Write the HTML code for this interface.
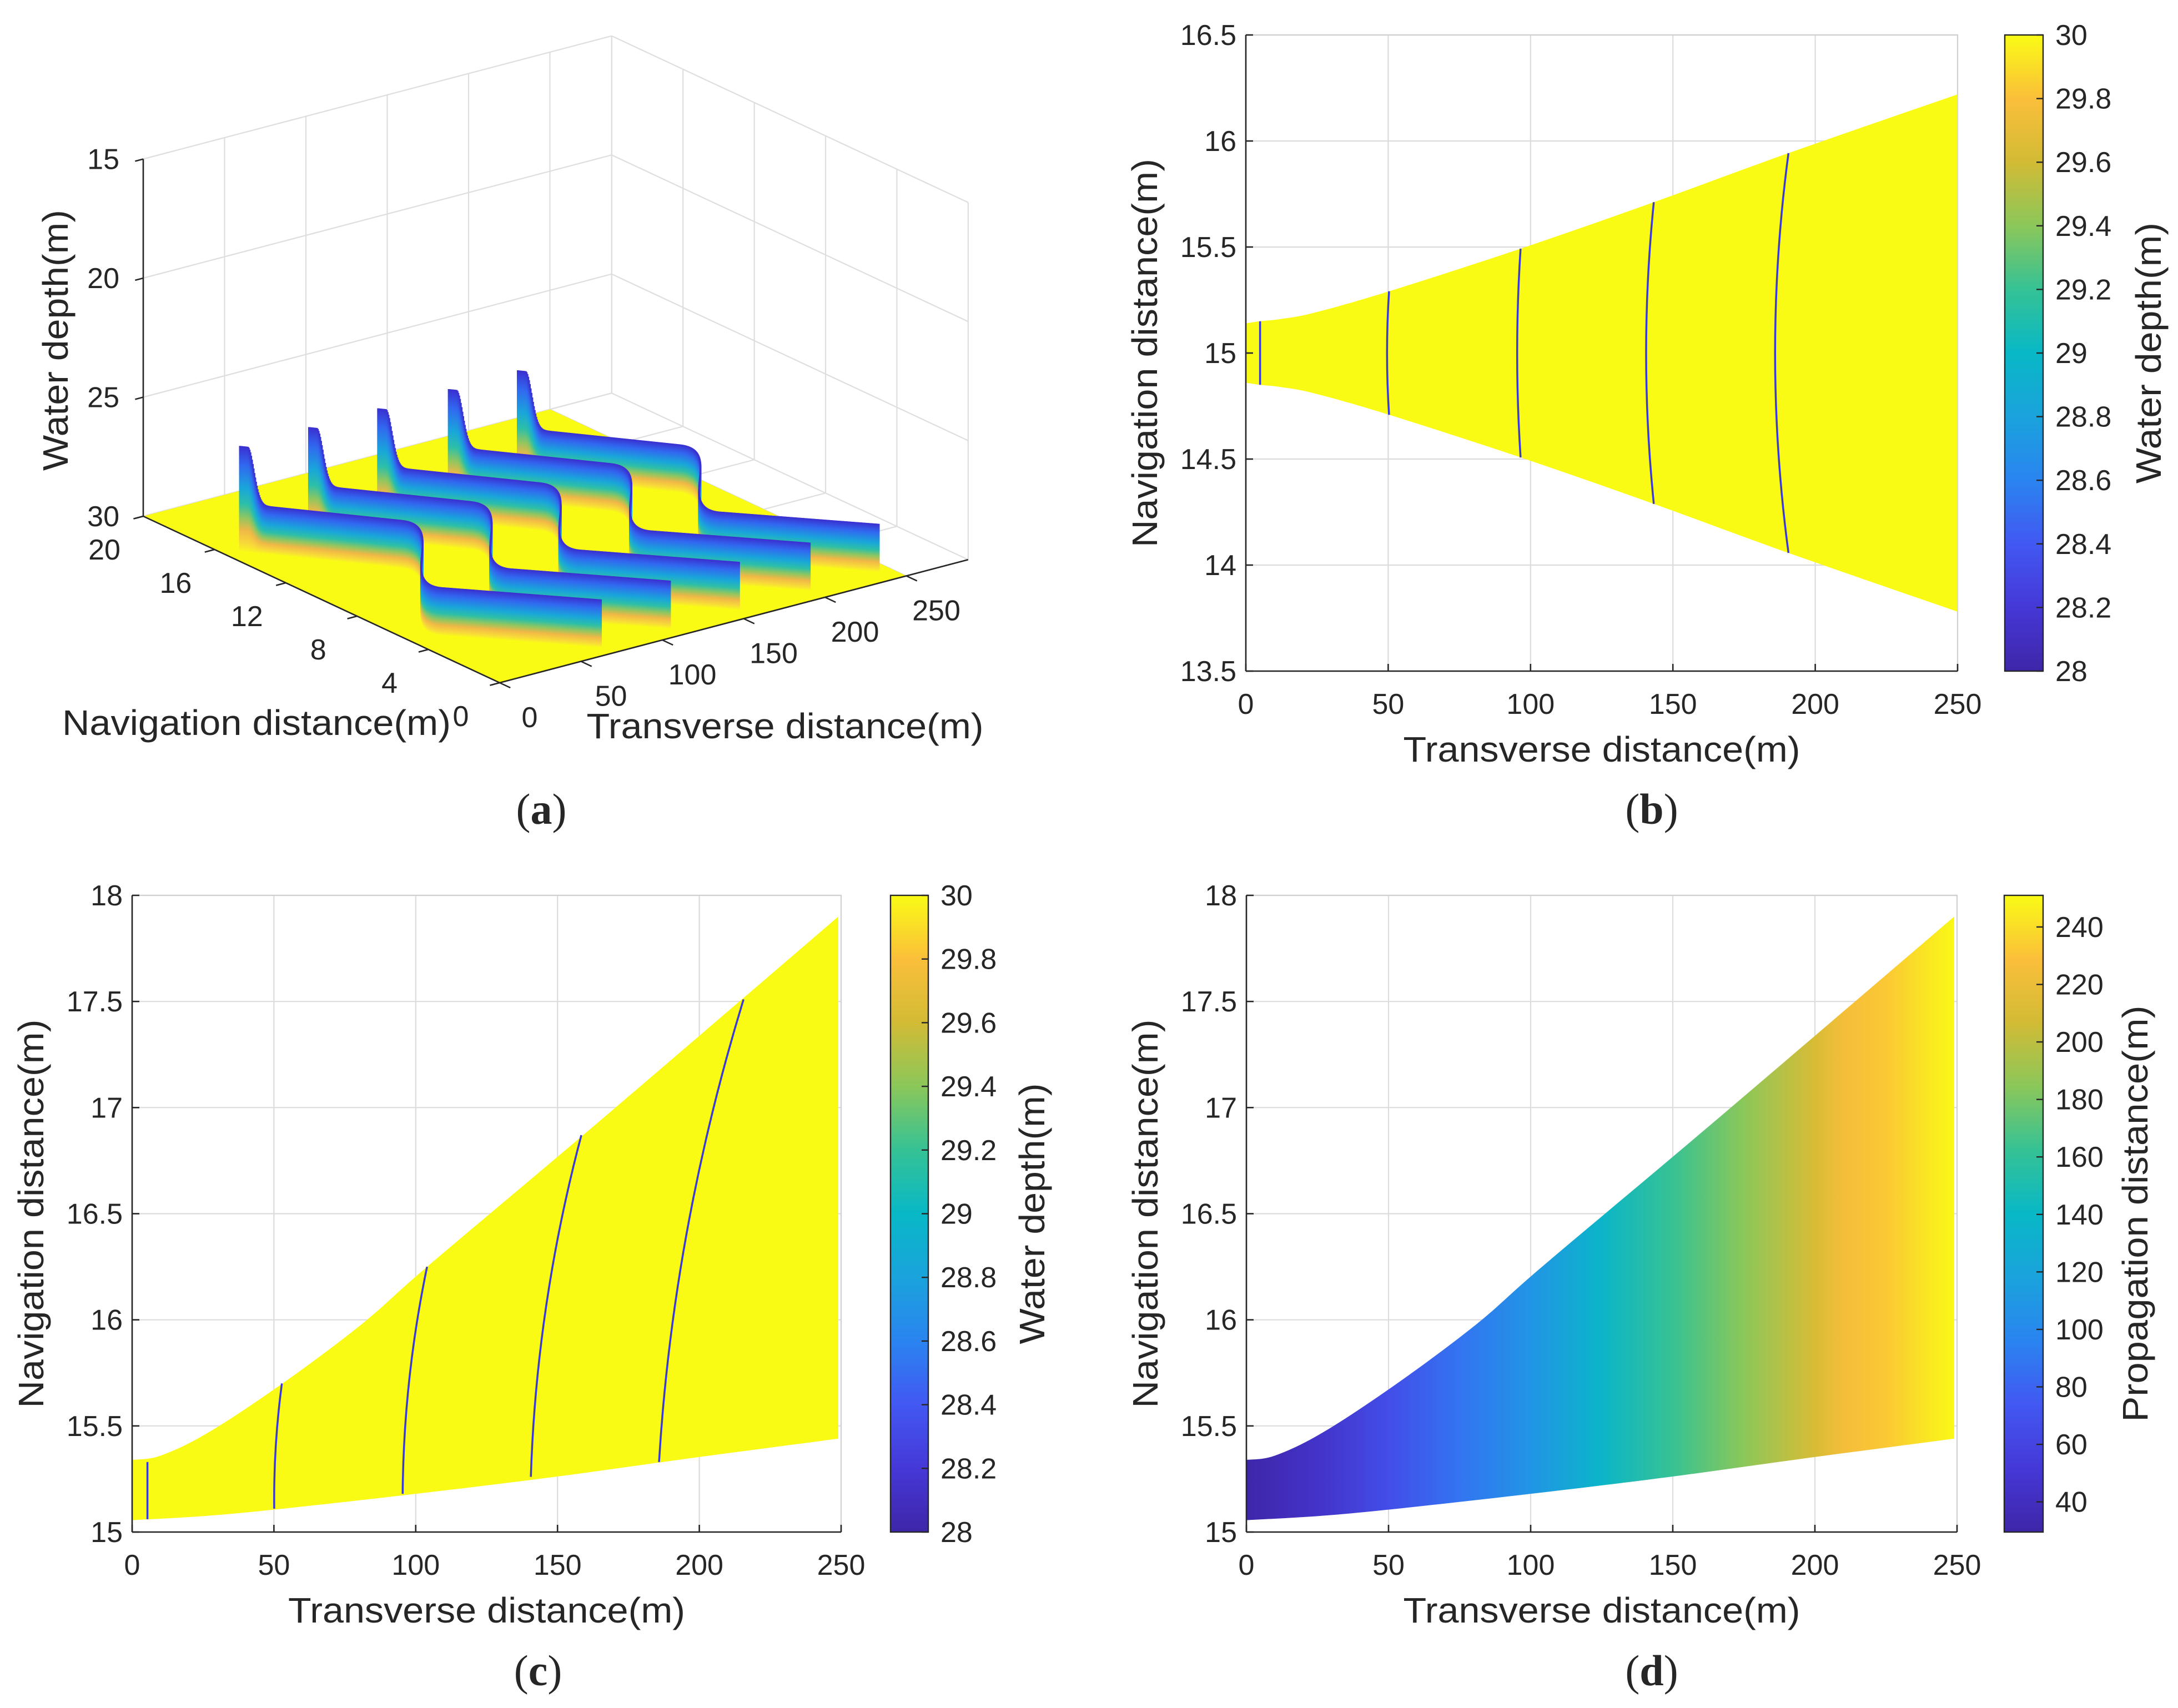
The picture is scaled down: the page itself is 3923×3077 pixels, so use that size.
<!DOCTYPE html>
<html><head><meta charset="utf-8"><title>Wave propagation figure</title>
<style>
html,body{margin:0;padding:0;background:#fff;}
svg text{font-family:"Liberation Sans",Arial,sans-serif;fill:#262626;}
</style></head>
<body>
<svg id="fig" xmlns="http://www.w3.org/2000/svg" width="3923" height="3072" viewBox="0 0 3923 3072">
<rect x="0" y="0" width="3923" height="3072" fill="#ffffff"/>
<defs id="defs"></defs>
</svg>
<script>
// ---------------- data ----------------
// panel (a): 3D wavefront walls
const aNavTicks = [0,4,8,12,16,20];
const aTransTicks = [0,50,100,150,200,250];
const aDepthTicks = [15,20,25,30];
const aWallStartT = [9,52,95,139,182];
const aWallStartN = [15.4,15.45,15.5,15.55,15.6];
const aWallShapeDT = [0,53.6,4.2,60.9];
const aWallShapeDN = [0,-4.95,-10.2,-14.7];
const aWallTopZ = [28.0,28.0,28.0,28.0,28.0];
const aSpikeTopZ = [25.6,25.6,25.6,25.6,25.6];
// panel (b)
const bUpperX = [0,5,12,24,50,96,143,190,250];
const bUpperY = [15.14,15.15,15.16,15.19,15.29,15.49,15.71,15.94,16.22];
const bFrontX = [5,50.3,96.5,143.3,190.6];
const bFrontMidX = [5,49.6,95.3,140.6,185.9];
const bXTicks = [0,50,100,150,200,250];
const bYTicks = [13.5,14,14.5,15,15.5,16,16.5];
const bYTickLabels = ["13.5","14","14.5","15","15.5","16","16.5"];
// panel (c)
const cUpperX = [0,10,27,53,81,104,159,215,249];
const cUpperY = [15.34,15.36,15.47,15.70,15.98,16.25,16.87,17.51,17.90];
const cLowerX = [0,25,51,100,149,198,249];
const cLowerY = [15.056,15.075,15.107,15.18,15.26,15.35,15.44];
const cFrontBotX = [5.4,50.1,95.4,140.6,185.8];
const cFrontBotY = [15.06,15.11,15.18,15.26,15.33];
const cFrontTopX = [5.4,52.8,104,158.4,215.6];
const cFrontTopY = [15.33,15.70,16.25,16.87,17.51];
const cFrontBow = [0,-0.8,-2,-3.5,-5];
const cYTicks = [15,15.5,16,16.5,17,17.5,18];
const cYTickLabels = ["15","15.5","16","16.5","17","17.5","18"];
// panel (d)
const dColorX = [0,25,50,75,100,125,150,175,200,210,225,250];
const dColorV = [30,45,66,88,108,137,163,185,210,225,232,251];
// colorbars
const depthCbTicks = [28,28.2,28.4,28.6,28.8,29,29.2,29.4,29.6,29.8,30];
const depthCbLabels = ["28","28.2","28.4","28.6","28.8","29","29.2","29.4","29.6","29.8","30"];
const propCbTicks = [40,60,80,100,120,140,160,180,200,220,240];

// ---------------- helpers ----------------
const NS = "http://www.w3.org/2000/svg";
const svg = document.getElementById('fig');
const defs = document.getElementById('defs');
function mk(tag, attrs, parent){
  const e = document.createElementNS(NS, tag);
  for (const k in attrs) e.setAttribute(k, attrs[k]);
  (parent || svg).appendChild(e);
  return e;
}
const parulaStops = [[0,"#3e26a8"],[0.1,"#4538d7"],[0.2,"#4258f2"],[0.3,"#2a84f0"],[0.4,"#1aa3dc"],[0.5,"#08b8c6"],[0.6,"#35c295"],[0.7,"#8bc75a"],[0.8,"#d2bb35"],[0.9,"#fbbf3a"],[1,"#f9fb15"]];
function hex2rgb(h){return [parseInt(h.substr(1,2),16),parseInt(h.substr(3,2),16),parseInt(h.substr(5,2),16)];}
function parula(f){
  f=Math.max(0,Math.min(1,f));
  for(let i=1;i<parulaStops.length;i++){
    if(f<=parulaStops[i][0]){
      const a=parulaStops[i-1],b=parulaStops[i];
      const u=(f-a[0])/(b[0]-a[0]);
      const ca=hex2rgb(a[1]),cb=hex2rgb(b[1]);
      return "rgb("+ca.map((v,j)=>Math.round(v+(cb[j]-v)*u)).join(",")+")";
    }
  }
  return parulaStops[parulaStops.length-1][1];
}
function interp(xs, ys, x){
  if(x<=xs[0]) return ys[0];
  for(let i=1;i<xs.length;i++){ if(x<=xs[i]){ const u=(x-xs[i-1])/(xs[i]-xs[i-1]); return ys[i-1]+u*(ys[i]-ys[i-1]); } }
  return ys[ys.length-1];
}
// smooth (Catmull-Rom) resampling of a data curve, returns screen points
function smoothPts(xs, ys, sx, sy){
  const out=[];
  const n=xs.length;
  for(let i=0;i<n-1;i++){
    const p0=[xs[Math.max(0,i-1)],ys[Math.max(0,i-1)]], p1=[xs[i],ys[i]], p2=[xs[i+1],ys[i+1]], p3=[xs[Math.min(n-1,i+2)],ys[Math.min(n-1,i+2)]];
    for(let k=0;k<12;k++){
      const t=k/12, t2=t*t, t3=t2*t;
      const f=(a,b,c,d)=>0.5*((2*b)+(-a+c)*t+(2*a-5*b+4*c-d)*t2+(-a+3*b-3*c+d)*t3);
      out.push([sx(f(p0[0],p1[0],p2[0],p3[0])), sy(f(p0[1],p1[1],p2[1],p3[1]))]);
    }
  }
  out.push([sx(xs[n-1]),sy(ys[n-1])]);
  return out;
}
const YEL = "#f9fb15";

const cbGrad = mk('linearGradient',{id:'cbGrad',x1:'0',y1:'1',x2:'0',y2:'0'},defs);
parulaStops.forEach(s=>mk('stop',{offset:s[0],'stop-color':s[1]},cbGrad));
const wallGrad = mk('linearGradient',{id:'wallGrad',x1:'0',y1:'0',x2:'0',y2:'1'},defs);
[[0,"#3a2fd0"],[0.18,"#3168f0"],[0.4,"#19a6da"],[0.55,"#2cbfa8"],[0.68,"#8fc660"],[0.8,"#f0b846"],[0.92,"#f8d83a"],[1,"#f9f520"]].forEach(s=>mk('stop',{offset:s[0],'stop-color':s[1]},wallGrad));

function text(parent, x, y, str, size, anchor, extra){
  const t = mk('text', Object.assign({x:x,y:y,'font-size':size,'text-anchor':anchor||'middle'}, extra||{}), parent);
  t.textContent = str;
  return t;
}

// ---------------- 2D axes ----------------
function axes2d(name, cfg){
  const g = mk('g',{});
  
  
  const sx = v => cfg.left + (v-cfg.xmin)/(cfg.xmax-cfg.xmin)*(cfg.right-cfg.left);
  const sy = v => cfg.bottom - (v-cfg.ymin)/(cfg.ymax-cfg.ymin)*(cfg.bottom-cfg.top);
  const grid = mk('g',{stroke:'#dcdcdc','stroke-width':2.2},g);
  
  
  cfg.xticks.forEach(v=>mk('line',{x1:sx(v),x2:sx(v),y1:cfg.top,y2:cfg.bottom},grid));
  cfg.yticks.forEach(v=>mk('line',{x1:cfg.left,x2:cfg.right,y1:sy(v),y2:sy(v)},grid));
  mk('rect',{x:cfg.left,y:cfg.top,width:cfg.right-cfg.left,height:cfg.bottom-cfg.top,fill:'none',stroke:'#d0d0d0','stroke-width':2.2},g);
  const plot = mk('g',{},g);
  
  
  const ax = mk('g',{stroke:'#262626','stroke-width':2.6},g);
  
  
  mk('line',{x1:cfg.left,x2:cfg.right,y1:cfg.bottom,y2:cfg.bottom},ax);
  mk('line',{x1:cfg.left,x2:cfg.left,y1:cfg.top,y2:cfg.bottom},ax);
  cfg.xticks.forEach(v=>mk('line',{x1:sx(v),x2:sx(v),y1:cfg.bottom,y2:cfg.bottom-13},ax));
  cfg.yticks.forEach(v=>mk('line',{x1:cfg.left,x2:cfg.left+13,y1:sy(v),y2:sy(v)},ax));
  const xl = mk('g',{},g);
  
  
  cfg.xticks.forEach(v=>text(xl, sx(v), cfg.bottom+77, String(v), 52));
  const yl = mk('g',{},g);
  
  
  cfg.yticks.forEach((v,i)=>text(yl, cfg.left-17, sy(v)+18, cfg.ylabels[i], 52, 'end'));
  const xt = text(g, (cfg.left+cfg.right)/2, cfg.bottom+163, 'Transverse distance(m)', 64, 'middle', {textLength:715, lengthAdjust:'spacingAndGlyphs'});
  
  
  const cy = (cfg.top+cfg.bottom)/2, bx = cfg.left-160;
  const yt = text(g, bx, cy, 'Navigation distance(m)', 64, 'middle', {transform:'rotate(-90 '+bx+' '+cy+')', textLength:700, lengthAdjust:'spacingAndGlyphs'});
  
  
  return {sx, sy, g, plot};
}

function colorbar(name, cfg){
  const g = mk('g',{});
  
  
  mk('rect',{x:cfg.x0,y:cfg.top,width:cfg.x1-cfg.x0,height:cfg.bottom-cfg.top,fill:'url(#cbGrad)',stroke:'#262626','stroke-width':2.4},g);
  const sy = v => cfg.bottom - (v-cfg.vmin)/(cfg.vmax-cfg.vmin)*(cfg.bottom-cfg.top);
  cfg.ticks.forEach((v,i)=>{
    mk('line',{x1:cfg.x1-12,x2:cfg.x1,y1:sy(v),y2:sy(v),stroke:'#262626','stroke-width':2.4},g);
    const t = text(g, cfg.x1+22, sy(v)+18, cfg.labels[i], 52, 'start');
    
    
  });
  const cy=(cfg.top+cfg.bottom)/2;
  const tt = text(g, cfg.titleX, cy, cfg.title, 64, 'middle', {transform:'rotate(-90 '+cfg.titleX+' '+cy+')', textLength:cfg.titleLen, lengthAdjust:'spacingAndGlyphs'});
  
  
}

function caption(x, y, letter, name){
  const t = mk('text',{x:x,y:y,'font-size':78,'text-anchor':'middle',style:'font-family:"Liberation Serif",serif'});
  
  
  const a = mk('tspan',{},t); a.textContent='(';
  const b = mk('tspan',{'font-weight':'bold'},t); b.textContent=letter;
  const c = mk('tspan',{},t); c.textContent=')';
}

// ---------------- panel (b) ----------------
(function(){
  const A = axes2d('panel-b-axes',{left:2244,right:3526,top:63,bottom:1209,xmin:0,xmax:250,ymin:13.5,ymax:16.5,xticks:bXTicks,yticks:bYTicks,ylabels:bYTickLabels});
  const up = smoothPts(bUpperX, bUpperY, A.sx, A.sy);
  const lo = smoothPts(bUpperX, bUpperY.map(v=>30-v), A.sx, A.sy).reverse();
  const poly = mk('polygon',{points:up.concat(lo).map(p=>p.join(',')).join(' '),fill:YEL},A.plot);
  
  
  bFrontX.forEach((x,i)=>{
    const yt = interp(bUpperX,bUpperY,x), yb = 30-yt;
    const mx = bFrontMidX[i];
    const cx = 2*A.sx(mx) - A.sx(x);
    const p = mk('path',{d:'M'+A.sx(x)+' '+A.sy(yt)+' Q'+cx+' '+A.sy(15)+' '+A.sx(x)+' '+A.sy(yb),fill:'none',stroke:'#3b3bd2','stroke-width':3.5},A.plot);
    
    
  });
  colorbar('panel-b-colorbar',{x0:3611,x1:3680,top:63,bottom:1209,vmin:28,vmax:30,ticks:depthCbTicks,labels:depthCbLabels,title:'Water depth(m)',titleX:3892,titleLen:470});
  caption(2975,1484,'b','caption-b');
})();

// ---------------- panel (c) ----------------
function regionPolygon(A){
  const up = smoothPts(cUpperX, cUpperY, A.sx, A.sy);
  const lo = smoothPts(cLowerX, cLowerY, A.sx, A.sy).reverse();
  return up.concat(lo).map(p=>p.join(',')).join(' ');
}
(function(){
  const A = axes2d('panel-c-axes',{left:238,right:1515,top:1613,bottom:2760,xmin:0,xmax:250,ymin:15,ymax:18,xticks:bXTicks,yticks:cYTicks,ylabels:cYTickLabels});
  const poly = mk('polygon',{points:regionPolygon(A),fill:YEL},A.plot);
  
  
  cFrontBotX.forEach((x,i)=>{
    const x0=A.sx(x), y0=A.sy(cFrontBotY[i]), x1=A.sx(cFrontTopX[i]), y1=A.sy(cFrontTopY[i]);
    const mx=(x0+x1)/2 + 2*(A.sx(cFrontBow[i])-A.sx(0)), my=(y0+y1)/2;
    const p = mk('path',{d:'M'+x0+' '+y0+' Q'+mx+' '+my+' '+x1+' '+y1,fill:'none',stroke:'#3b3bd2','stroke-width':3.5},A.plot);
    
    
  });
  colorbar('panel-c-colorbar',{x0:1604,x1:1672,top:1613,bottom:2760,vmin:28,vmax:30,ticks:depthCbTicks,labels:depthCbLabels,title:'Water depth(m)',titleX:1881,titleLen:470});
  caption(969,3036,'c','caption-c');
})();

// ---------------- panel (d) ----------------
(function(){
  const A = axes2d('panel-d-axes',{left:2245,right:3525,top:1613,bottom:2760,xmin:0,xmax:250,ymin:15,ymax:18,xticks:bXTicks,yticks:cYTicks,ylabels:cYTickLabels});
  const vmin=29.5, vmax=251;
  const gr = mk('linearGradient',{id:'dGrad',gradientUnits:'userSpaceOnUse',x1:A.sx(0),y1:0,x2:A.sx(250),y2:0},defs);
  dColorX.forEach((x,i)=>mk('stop',{offset:x/250,'stop-color':parula((dColorV[i]-vmin)/(vmax-vmin))},gr));
  const poly = mk('polygon',{points:regionPolygon(A),fill:'url(#dGrad)'},A.plot);
  
  
  colorbar('panel-d-colorbar',{x0:3610,x1:3680,top:1613,bottom:2760,vmin:vmin,vmax:vmax,ticks:propCbTicks,labels:propCbTicks.map(String),title:'Propagation distance(m)',titleX:3868,titleLen:750});
  caption(2975,3036,'d','caption-d');
})();

// ---------------- panel (a) 3D ----------------
(function(){
  const F=[900,1230], T=[2.93,-0.77], N=[-32.1,-15], ZU=42.9, TMAX=288, FLOORT=250;
  const P=(t,n,z)=>[F[0]+t*T[0]+n*N[0], F[1]+t*T[1]+n*N[1]+(z-30)*ZU];
  const g = mk('g',{});
  
  
  const grid = mk('g',{stroke:'#dedede','stroke-width':2.2,fill:'none'},g);
  
  
  const L=(a,b,par,attrs)=>mk('line',Object.assign({x1:a[0],y1:a[1],x2:b[0],y2:b[1]},attrs||{}),par);
  aNavTicks.forEach(n=>L(P(0,n,30),P(TMAX,n,30),grid));
  aTransTicks.forEach(t=>L(P(t,0,30),P(t,20,30),grid));
  aTransTicks.forEach(t=>L(P(t,20,30),P(t,20,15),grid));
  aDepthTicks.forEach(z=>L(P(0,20,z),P(TMAX,20,z),grid));
  aNavTicks.forEach(n=>L(P(TMAX,n,30),P(TMAX,n,15),grid));
  aDepthTicks.forEach(z=>L(P(TMAX,0,z),P(TMAX,20,z),grid));
  L(P(TMAX,20,30),P(TMAX,20,15),grid);
  const fl=[P(0,0,30),P(FLOORT,0,30),P(FLOORT,20,30),P(0,20,30)];
  const floor = mk('polygon',{points:fl.map(p=>p.join(',')).join(' '),fill:YEL},g);
  
  
  for(let k=aWallStartT.length-1;k>=0;k--){
    const wg = mk('g',{},g);
    
    
    const S = aWallShapeDT.map((dt,i)=>P(aWallStartT[k]+dt, aWallStartN[k]+aWallShapeDN[i], 30));
    const unit=(a,b)=>{const dx=b[0]-a[0],dy=b[1]-a[1],l=Math.hypot(dx,dy);return [dx/l,dy/l];};
    const u1=unit(S[0],S[1]), u2=unit(S[2],S[3]), r=85;
    const pts=[];
    const seg=(a,b,n)=>{for(let i=0;i<n;i++){const u=i/n;pts.push([a[0]+(b[0]-a[0])*u,a[1]+(b[1]-a[1])*u]);}};
    const s1end=[S[1][0]-u1[0]*25,S[1][1]-u1[1]*25];
    seg(S[0],s1end,200);
    const c1=[s1end[0]+u1[0]*r,s1end[1]+u1[1]*r], s2st=[S[2][0]+u2[0]*25,S[2][1]+u2[1]*25], c2=[s2st[0]-u2[0]*r,s2st[1]-u2[1]*r];
    for(let i=0;i<140;i++){const u=i/140,v=1-u;pts.push([v*v*v*s1end[0]+3*v*v*u*c1[0]+3*v*u*u*c2[0]+u*u*u*s2st[0], v*v*v*s1end[1]+3*v*v*u*c1[1]+3*v*u*u*c2[1]+u*u*u*s2st[1]]);}
    seg(s2st,S[3],200); pts.push(S[3]);
    const bandH=(30-aWallTopZ[k])*ZU, spikeH=(aWallTopZ[k]-aSpikeTopZ[k])*ZU;
    let s=0;
    pts.forEach((p,i)=>{
      if(i>0) s+=Math.hypot(p[0]-pts[i-1][0],p[1]-pts[i-1][1]);
      const f = s<14 ? 1 : Math.exp(-Math.pow((s-14)/16,2));
      const h=bandH+spikeH*f;
      mk('rect',{x:p[0]-1.5,y:p[1]-h,width:3.2,height:h,fill:'url(#wallGrad)'},wg);
    });
  }
  const ax = mk('g',{stroke:'#262626','stroke-width':2.6},g);
  
  
  L(P(0,20,30),P(0,20,15),ax);
  L(P(0,0,30),P(0,20,30),ax);
  L(P(0,0,30),P(TMAX,0,30),ax);
  aDepthTicks.forEach(z=>L(P(0,20,z),P(-5,20,z),ax));
  aNavTicks.forEach(n=>L(P(0,n,30),P(-6,n,30),ax));
  aTransTicks.forEach(t=>L(P(t,0,30),P(t,-0.6,30),ax));
  const zl = mk('g',{},g);
  
  
  aDepthTicks.forEach(z=>{const p=P(0,20,z);text(zl,215,p[1]+18,String(z),52,'end');});
  const nl = mk('g',{},g);
  
  
  aNavTicks.forEach(n=>{const p=P(0,n,30);text(nl,p[0]-70,p[1]+78,String(n),52,'middle');});
  const tl = mk('g',{},g);
  
  
  aTransTicks.forEach(t=>{const p=P(t,0,30);text(tl,p[0]+54,p[1]+80,String(t),52,'middle');});
  const zt = text(g,122,613,'Water depth(m)',64,'middle',{transform:'rotate(-90 122 613)',textLength:470,lengthAdjust:'spacingAndGlyphs'});
  
  
  const nt = text(g,462,1324,'Navigation distance(m)',64,'middle',{textLength:700,lengthAdjust:'spacingAndGlyphs'});
  
  
  const tt = text(g,1414,1330,'Transverse distance(m)',64,'middle',{textLength:715,lengthAdjust:'spacingAndGlyphs'});
  
  
  caption(975,1484,'a','caption-a');
})();
</script>
</body></html>
